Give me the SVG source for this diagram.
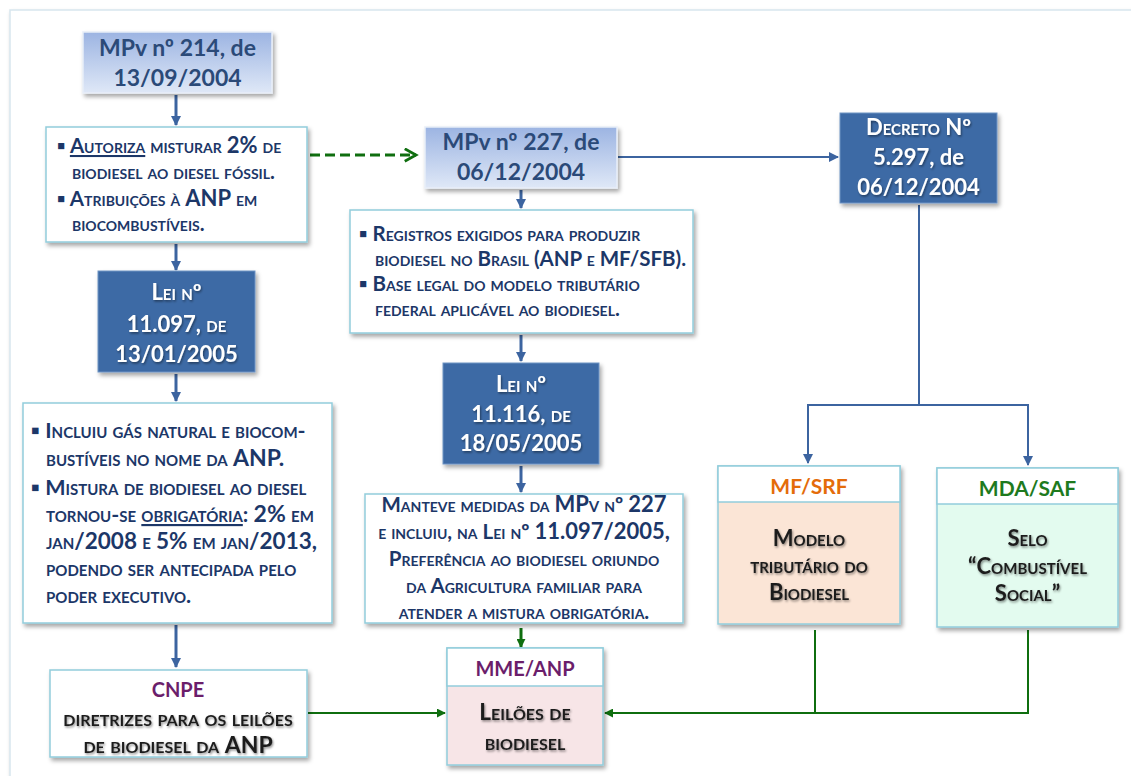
<svg xmlns="http://www.w3.org/2000/svg" width="1131" height="776" viewBox="0 0 1131 776">
<defs>
<style>
text{font-family:Lato,"Open Sans","Liberation Sans",sans-serif;font-weight:bold}
.sc{font-variant:small-caps}
.bx{fill:#fff;stroke:#92cddc;stroke-width:1.5}
.dk{fill:#3d6aa5;stroke:#6e93c4;stroke-width:1}
.lt{fill:url(#lg);stroke:#e8eef8;stroke-width:1.5}
.t-nav{fill:#1c3768}
.t-title{fill:#2b4a78;font-size:23px;text-anchor:middle}
.t-white{fill:#fff;font-size:22px;text-anchor:middle}
.t-blk{fill:#1e1e1e}
.blu{stroke:#3c64a0;fill:none}
.grn{stroke:#0f6e0f;fill:none}
</style>
<linearGradient id="lg" x1="0" y1="0" x2="0" y2="1">
<stop offset="0" stop-color="#9cb4e2"/>
<stop offset="1" stop-color="#dfe8f7"/>
</linearGradient>
<filter id="sh" x="-10%" y="-10%" width="130%" height="130%">
<feDropShadow dx="2" dy="3" stdDeviation="2" flood-color="#000" flood-opacity="0.35"/>
</filter>
<filter id="ts" x="-5%" y="-20%" width="110%" height="150%">
<feDropShadow dx="1" dy="1.5" stdDeviation="1" flood-color="#000" flood-opacity="0.45"/>
</filter>
<marker id="ab" viewBox="0 0 10 10" refX="9" refY="5" markerWidth="10" markerHeight="10" markerUnits="userSpaceOnUse" orient="auto">
<path d="M0,0 L10,5 L0,10 z" fill="#3c64a0"/>
</marker>
<marker id="ag" viewBox="0 0 10 10" refX="9" refY="5" markerWidth="9" markerHeight="9" markerUnits="userSpaceOnUse" orient="auto">
<path d="M0,0 L10,5 L0,10 z" fill="#0f6e0f"/>
</marker>
<marker id="agd" viewBox="0 0 12 12" refX="10" refY="6" markerWidth="15" markerHeight="15" markerUnits="userSpaceOnUse" orient="auto">
<path d="M1,1 L10,6 L1,11" fill="none" stroke="#0f6e0f" stroke-width="2.2"/>
</marker>
</defs>

<rect x="0" y="0" width="1131" height="776" fill="#fff"/>
<rect x="10" y="10" width="1130" height="780" fill="#fff" stroke="#d8e6ee" stroke-width="1.5" filter="url(#sh)"/>

<g id="connectors">
<path class="blu" stroke-width="3" d="M176,95 V125" marker-end="url(#ab)"/>
<path class="blu" stroke-width="3" d="M176,244 V270" marker-end="url(#ab)"/>
<path class="blu" stroke-width="3" d="M176,374 V401" marker-end="url(#ab)"/>
<path class="blu" stroke-width="3" d="M176,625 V667" marker-end="url(#ab)"/>
<path class="blu" stroke-width="3" d="M521,190 V208" marker-end="url(#ab)"/>
<path class="blu" stroke-width="3" d="M521,335 V361" marker-end="url(#ab)"/>
<path class="blu" stroke-width="3" d="M521,466 V492" marker-end="url(#ab)"/>
<path class="grn" stroke-width="3" d="M521,628 V647" marker-end="url(#ag)"/>
<path class="grn" stroke-width="3" stroke-dasharray="10,5" d="M310,155 H416" marker-end="url(#agd)"/>
<path class="blu" stroke-width="2" d="M618,157 H838" marker-end="url(#ab)"/>
<path class="blu" stroke-width="2" d="M919,205 V405"/>
<path class="blu" stroke-width="2" d="M919,405 H808 V463" marker-end="url(#ab)"/>
<path class="blu" stroke-width="2" d="M919,405 H1028 V465" marker-end="url(#ab)"/>
<path class="grn" stroke-width="2" d="M308,713 H445" marker-end="url(#ag)"/>
<path class="grn" stroke-width="2" d="M815,630 V714"/>
<path class="grn" stroke-width="2" d="M1028,630 V713 H605" marker-end="url(#ag)"/>
</g>

<g id="mpv214">
<rect class="lt" x="83" y="32" width="189" height="61" filter="url(#sh)"/>
<text class="t-title" x="177.5" y="56">MPv nº 214, de</text>
<text class="t-title" x="177.5" y="86">13/09/2004</text>
</g>

<g id="autoriza">
<rect class="bx" x="46" y="127" width="261" height="115" filter="url(#sh)"/>
<text class="t-nav sc" font-size="20.5" x="57" y="153">▪ <tspan text-decoration="underline">Autoriza</tspan> misturar <tspan font-size="22">2%</tspan> de</text>
<text class="t-nav sc" font-size="20.5" x="72" y="179">biodiesel ao diesel fóssil.</text>
<text class="t-nav sc" font-size="20.5" x="57" y="206">▪ Atribuições à <tspan font-size="22">ANP</tspan> em</text>
<text class="t-nav sc" font-size="20.5" x="72" y="231">biocombustíveis.</text>
</g>

<g id="lei11097">
<rect class="dk" x="98" y="271" width="157" height="101" filter="url(#sh)"/>
<g filter="url(#ts)">
<text class="t-white sc" x="176.5" y="300">Lei nº</text>
<text class="t-white" x="176.5" y="332">11.097, <tspan class="sc">de</tspan></text>
<text class="t-white" x="176.5" y="362">13/01/2005</text>
</g>
</g>

<g id="incluiu">
<rect class="bx" x="23" y="403" width="309" height="220" filter="url(#sh)"/>
<text class="t-nav sc" font-size="21.5" x="31" y="438">▪ Incluiu gás natural e biocom-</text>
<text class="t-nav sc" font-size="21.5" x="46" y="466">bustíveis no nome da <tspan font-size="23">ANP.</tspan></text>
<text class="t-nav sc" font-size="21.5" x="31" y="495">▪ Mistura de biodiesel ao diesel</text>
<text class="t-nav sc" font-size="21.5" x="46" y="522">tornou-se <tspan text-decoration="underline">obrigatória</tspan>: <tspan font-size="23">2%</tspan> em</text>
<text class="t-nav sc" font-size="21.5" x="46" y="549">jan<tspan font-size="22.5">/2008</tspan> e <tspan font-size="22.5">5%</tspan> em jan<tspan font-size="22.5">/2013,</tspan></text>
<text class="t-nav sc" font-size="21.5" x="46" y="576">podendo ser antecipada pelo</text>
<text class="t-nav sc" font-size="21.5" x="46" y="603">poder executivo.</text>
</g>

<g id="mpv227">
<rect class="lt" x="425" y="127" width="192" height="61" filter="url(#sh)"/>
<text class="t-title" x="521" y="150">MPv nº 227, de</text>
<text class="t-title" x="521" y="180">06/12/2004</text>
</g>

<g id="registros">
<rect class="bx" x="350" y="210" width="343" height="123" filter="url(#sh)"/>
<text class="t-nav sc" font-size="20.5" x="359" y="241">▪ Registros exigidos para produzir</text>
<text class="t-nav sc" font-size="20.5" x="375" y="266">biodiesel no Brasil (ANP e MF/SFB).</text>
<text class="t-nav sc" font-size="20.5" x="359" y="291">▪ Base legal do modelo tributário</text>
<text class="t-nav sc" font-size="20.5" x="375" y="316">federal aplicável ao biodiesel.</text>
</g>

<g id="lei11116">
<rect class="dk" x="443" y="363" width="156" height="101" filter="url(#sh)"/>
<g filter="url(#ts)">
<text class="t-white sc" x="521" y="392">Lei nº</text>
<text class="t-white" x="521" y="422">11.116, <tspan class="sc">de</tspan></text>
<text class="t-white" x="521" y="451">18/05/2005</text>
</g>
</g>

<g id="manteve">
<rect class="bx" x="365" y="494" width="318" height="129" filter="url(#sh)"/>
<text class="t-nav sc" font-size="20.5" x="524" y="512" text-anchor="middle">Manteve medidas da <tspan font-size="22">MPv</tspan> nº <tspan font-size="22">227</tspan></text>
<text class="t-nav sc" font-size="20.5" x="524" y="539" text-anchor="middle">e incluiu, na Lei nº <tspan font-size="22">11.097/2005,</tspan></text>
<text class="t-nav sc" font-size="20.5" x="524" y="566" text-anchor="middle">Preferência ao biodiesel oriundo</text>
<text class="t-nav sc" font-size="20.5" x="524" y="593" text-anchor="middle">da Agricultura familiar para</text>
<text class="t-nav sc" font-size="20.5" x="524" y="619" text-anchor="middle">atender a mistura obrigatória.</text>
</g>

<g id="decreto">
<rect class="dk" x="840" y="113" width="157" height="90" filter="url(#sh)"/>
<g filter="url(#ts)">
<text class="t-white sc" x="918.5" y="135">Decreto Nº</text>
<text class="t-white" x="918.5" y="165">5.297, de</text>
<text class="t-white" x="918.5" y="195">06/12/2004</text>
</g>
</g>

<g id="mfsrf">
<rect x="718" y="466" width="182" height="158" fill="#fbe5d6" stroke="#92cddc" stroke-width="1.5" filter="url(#sh)"/>
<rect x="718" y="466" width="182" height="36" fill="#fff" stroke="#92cddc" stroke-width="1.5"/>
<text x="809" y="494" font-size="21" fill="#e46c0a" text-anchor="middle">MF/SRF</text>
<g filter="url(#ts)">
<text class="t-blk sc" x="809" y="546" font-size="22" text-anchor="middle">Modelo</text>
<text class="t-blk sc" x="809" y="573" font-size="22" text-anchor="middle">tributário do</text>
<text class="t-blk sc" x="809" y="600" font-size="22" text-anchor="middle">Biodiesel</text>
</g>
</g>

<g id="mdasaf">
<rect x="937" y="468" width="181" height="159" fill="#e3fbef" stroke="#92cddc" stroke-width="1.5" filter="url(#sh)"/>
<rect x="937" y="468" width="181" height="36" fill="#fff" stroke="#92cddc" stroke-width="1.5"/>
<text x="1027.5" y="496" font-size="21" fill="#1e7a1e" text-anchor="middle">MDA/SAF</text>
<g filter="url(#ts)">
<text class="t-blk sc" x="1027.5" y="546" font-size="22" text-anchor="middle">Selo</text>
<text class="t-blk sc" x="1027.5" y="574" font-size="22" text-anchor="middle">“Combustível</text>
<text class="t-blk sc" x="1027.5" y="601" font-size="22" text-anchor="middle">Social”</text>
</g>
</g>

<g id="cnpe">
<rect class="bx" x="50" y="670" width="257" height="87" filter="url(#sh)"/>
<text x="178" y="697" font-size="20" fill="#6b1e6b" text-anchor="middle">CNPE</text>
<g filter="url(#ts)">
<text class="t-blk sc" x="178" y="726" font-size="22.5" text-anchor="middle">diretrizes para os leilões</text>
<text class="t-blk sc" x="178" y="753" font-size="22.5" text-anchor="middle">de biodiesel da <tspan font-size="23">ANP</tspan></text>
</g>
</g>

<g id="mmeanp">
<rect x="447" y="648" width="156" height="117" fill="#f7e5e7" stroke="#92cddc" stroke-width="1.5" filter="url(#sh)"/>
<rect x="447" y="648" width="156" height="38" fill="#fff" stroke="#92cddc" stroke-width="1.5"/>
<text x="525" y="676" font-size="20" fill="#6b1e6b" text-anchor="middle">MME/ANP</text>
<g filter="url(#ts)">
<text class="t-blk sc" x="525" y="720" font-size="22.5" text-anchor="middle">Leilões de</text>
<text class="t-blk sc" x="525" y="750" font-size="22.5" text-anchor="middle">biodiesel</text>
</g>
</g>
</svg>
